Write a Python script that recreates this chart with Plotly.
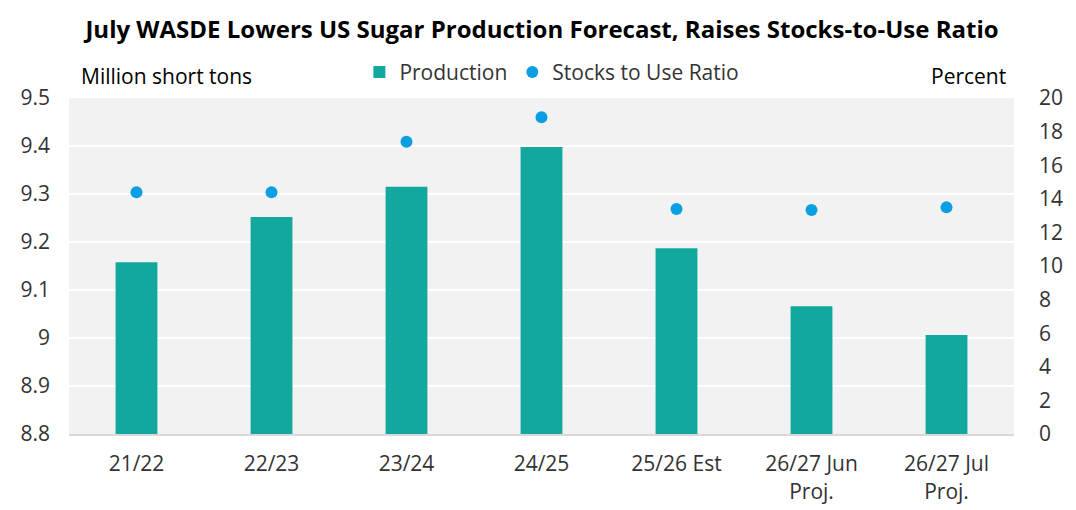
import plotly.graph_objects as go

categories = ["21/22", "22/23", "23/24", "24/25", "25/26 Est", "26/27 Jun<br>Proj.", "26/27 Jul<br>Proj."]
production = [9.158, 9.252, 9.315, 9.398, 9.187, 9.066, 9.006]
stocks_to_use = [14.39, 14.39, 17.39, 18.86, 13.39, 13.33, 13.49]
left_ticks = [8.8, 8.9, 9.0, 9.1, 9.2, 9.3, 9.4, 9.5]
right_ticks = list(range(0, 21, 2))

FONT = "Open Sans"

fig = go.Figure()
fig.add_trace(go.Bar(
    x=categories, y=production, name="Production",
    marker=dict(color="#13a89e", line=dict(width=0)),
    width=0.31, yaxis="y",
))
fig.add_trace(go.Scatter(
    x=categories, y=stocks_to_use, name="Stocks to Use Ratio",
    mode="markers", marker=dict(color="#0a9fe3", size=12),
    yaxis="y2",
))

fig.update_layout(
    width=1068, height=502,
    margin=dict(l=61, r=62, t=90, b=76),
    paper_bgcolor="white", plot_bgcolor="#f2f2f2",
    font=dict(family=FONT, size=21, color="#333333"),
    title=dict(
        text="<b>July WASDE Lowers US Sugar Production Forecast, Raises Stocks-to-Use Ratio</b>",
        x=0.5, xanchor="center", y=1 - 22 / 502, yanchor="middle",
        font=dict(family=FONT, size=24, color="#000000"),
    ),
    showlegend=True,
    legend=dict(
        orientation="h", x=0.511, xanchor="center", y=1.015, yanchor="bottom",
        font=dict(family=FONT, size=21, color="#333333"),
        bgcolor="rgba(0,0,0,0)", traceorder="normal",
    ),
    bargap=0.69,
    xaxis=dict(
        showgrid=False, showline=True, linecolor="#d9d9d9", linewidth=2,
        ticks="", ticklabelstandoff=10, automargin=False,
        tickfont=dict(size=21, color="#333333"),
    ),
    yaxis=dict(
        range=[8.8, 9.5], tickvals=left_ticks, ticktext=[f"{v:g}" for v in left_ticks],
        showgrid=True, gridcolor="white", gridwidth=2, zeroline=False,
        ticks="", ticklabelstandoff=18, automargin=False,
        tickfont=dict(size=21, color="#333333"),
    ),
    yaxis2=dict(
        range=[0, 20], tickvals=right_ticks, overlaying="y", side="right",
        showgrid=False, zeroline=False, ticks="", ticklabelstandoff=24,
        automargin=False, tickfont=dict(size=21, color="#333333"),
    ),
)

fig.add_annotation(
    text="Million short tons", xref="paper", yref="paper",
    x=0.011, y=1.0, xanchor="left", yanchor="bottom", yshift=6,
    showarrow=False, font=dict(family=FONT, size=21, color="#000000"),
)
fig.add_annotation(
    text="Percent", xref="paper", yref="paper",
    x=1.0, y=1.0, xanchor="right", yanchor="bottom", yshift=6, xshift=-6,
    showarrow=False, font=dict(family=FONT, size=21, color="#000000"),
)

fig.write_html("out.html")
